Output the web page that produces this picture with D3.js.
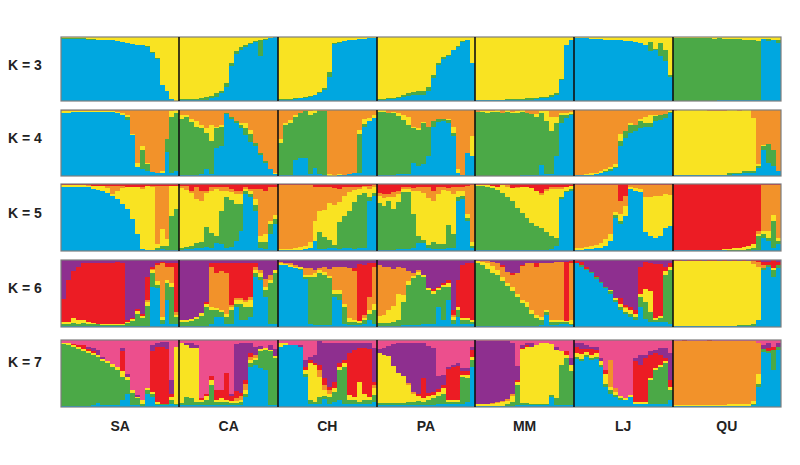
<!DOCTYPE html>
<html><head><meta charset="utf-8">
<script src="https://cdn.jsdelivr.net/npm/d3@7"></script>
<style>body{margin:0;background:#fff}svg{display:block}</style>
</head><body>
<svg id="c" width="800" height="465"></svg>
<script>
// ---------------- DATA ----------------
const populations = ["SA","CA","CH","PA","MM","LJ","QU"];
const popSizes    = [24,20,20,20,20,20,22];
const kLabels     = ["K = 3","K = 4","K = 5","K = 6","K = 7"];

const clustersK3 = ["blue","green","yellow"];
const clustersK4 = ["blue","green","yellow","orange"];
const clustersK5 = ["blue","green","yellow","orange","red"];
const clustersK6 = ["blue","green","yellow","orange","red","purple"];
const clustersK7 = ["blue","green","yellow","orange","red","purple","pink"];

// membership (%) per individual, columns follow clustersKx
const K3 = [
// SA
[97,2,1],[97,2,1],[97,1,2],[97,1,2],[97,1,2],[96,1,3],[96,1,3],[96,0,4],[96,0,4],[95,0,5],[95,0,5],[94,0,6],[92,0,8],[91,0,9],[89,0,11],[88,0,12],[87,0,13],[85,1,14],[75,2,23],[66,1,33],[25,0,75],[15,0,85],[3,0,97],[0,0,100],
// CA
[1,2,97],[1,2,97],[1,2,97],[1,2,97],[1,3,96],[2,4,94],[4,4,92],[7,5,88],[12,4,84],[22,6,72],[55,5,40],[74,4,22],[80,4,16],[85,3,12],[89,2,9],[92,2,6],[70,26,4],[96,1,3],[99,0,1],[100,0,0],
// CH
[2,1,97],[2,1,97],[2,1,97],[3,1,96],[4,1,95],[5,1,94],[7,1,92],[9,1,90],[12,2,86],[17,3,80],[37,8,55],[89,1,10],[91,1,8],[93,1,6],[95,0,5],[96,0,4],[97,0,3],[97,0,3],[98,0,2],[99,0,1],
// PA
[2,1,97],[2,1,97],[3,1,96],[3,1,96],[5,1,94],[7,2,91],[8,4,88],[9,5,86],[10,5,85],[10,6,84],[16,6,78],[36,4,60],[57,3,40],[66,2,32],[70,2,28],[79,1,20],[85,1,14],[92,1,7],[95,0,5],[60,0,40],
// MM
[1,1,98],[1,1,98],[1,1,98],[1,1,98],[1,1,98],[1,1,98],[2,1,97],[2,1,97],[2,1,97],[2,1,97],[2,2,96],[2,2,96],[3,2,95],[4,2,94],[5,2,93],[7,2,91],[10,2,88],[33,2,65],[87,1,12],[96,0,4],
// LJ
[98,0,2],[98,0,2],[98,0,2],[97,0,3],[97,0,3],[97,0,3],[96,0,4],[96,0,4],[95,0,5],[95,0,5],[94,0,6],[93,0,7],[92,0,8],[90,0,10],[87,1,12],[78,14,8],[80,2,18],[70,20,10],[62,18,20],[38,2,60],
// QU
[0,98,2],[0,98,2],[0,98,2],[0,98,2],[0,98,2],[0,98,2],[0,98,2],[0,98,2],[0,97,3],[1,97,2],[1,96,3],[1,96,3],[1,96,3],[2,95,3],[1,95,4],[1,95,4],[1,94,5],[1,93,6],[97,0,3],[93,4,3],[96,0,4],[90,5,5]
];

const K4 = [
// SA
[95,0,3,2],[96,0,2,2],[97,0,1,2],[97,0,1,2],[97,0,1,2],[97,0,1,2],[97,0,1,2],[97,0,1,2],[97,0,1,2],[97,0,1,2],[97,0,1,2],[96,0,1,3],[92,0,4,4],[85,5,2,8],[62,0,2,36],[14,0,6,80],[10,30,5,55],[8,10,2,80],[6,0,0,94],[5,0,0,95],[5,0,2,93],[36,20,0,44],[5,85,8,2],[8,88,4,0],
// CA
[2,85,5,8],[2,88,3,7],[2,80,5,13],[2,73,8,17],[3,70,5,22],[10,55,8,27],[3,50,25,22],[42,30,3,25],[45,30,2,23],[94,2,0,4],[87,3,0,10],[80,3,0,17],[72,5,3,20],[62,10,8,20],[52,12,6,30],[45,5,0,50],[32,3,0,65],[20,2,0,78],[10,0,0,90],[3,0,2,95],
// CH
[2,48,6,44],[2,75,3,20],[2,78,5,15],[25,65,2,8],[27,68,1,4],[28,70,0,2],[3,90,5,2],[12,84,4,0],[3,95,0,2],[2,96,0,2],[0,0,3,97],[0,0,2,98],[1,0,2,97],[2,0,0,98],[3,0,0,97],[4,0,0,96],[4,60,6,30],[75,4,8,13],[83,0,5,12],[88,0,4,8],
// PA
[2,95,3,0],[2,95,3,0],[2,94,0,4],[2,93,2,3],[3,88,4,5],[3,82,8,7],[3,75,12,10],[20,52,3,25],[15,55,3,27],[18,62,2,18],[30,45,0,25],[75,8,0,17],[82,4,0,14],[84,3,0,13],[80,5,2,13],[60,5,10,25],[5,0,5,90],[2,0,0,98],[35,0,0,65],[30,0,30,40],
// MM
[0,97,0,3],[0,97,1,2],[0,96,3,1],[0,97,2,1],[0,97,3,0],[0,96,0,4],[0,97,3,0],[0,96,1,3],[0,96,3,1],[1,96,3,0],[1,95,0,4],[2,92,0,6],[2,88,4,6],[17,78,3,2],[3,80,15,2],[3,65,22,10],[30,50,10,10],[80,12,3,5],[88,5,3,4],[92,2,3,3],
// LJ
[1,0,0,99],[1,0,1,98],[2,0,1,97],[2,0,2,96],[3,0,2,95],[4,1,2,93],[6,2,3,89],[8,2,3,87],[12,2,4,82],[45,8,10,37],[58,10,0,32],[65,12,3,20],[68,10,0,22],[72,12,3,13],[75,5,10,10],[75,5,12,8],[83,8,2,7],[85,8,0,7],[88,6,0,6],[95,2,2,1],
// QU
[1,1,97,1],[1,1,98,0],[1,1,98,0],[1,1,98,0],[1,1,98,0],[1,1,98,0],[1,1,98,0],[1,1,97,1],[1,1,97,1],[1,1,97,1],[1,1,97,1],[2,2,96,0],[3,2,95,0],[3,2,94,1],[4,3,93,0],[5,3,92,0],[5,3,80,12],[12,3,3,82],[40,5,2,53],[20,28,0,52],[15,25,0,60],[8,0,0,92]
];

const K5 = [
// SA
[96,0,3,0,1],[96,0,3,0,1],[96,0,3,0,1],[96,0,2,1,1],[95,0,3,0,2],[95,0,2,1,2],[93,0,4,0,3],[91,0,6,0,3],[89,0,8,0,3],[86,0,8,3,3],[82,0,3,12,3],[78,0,12,7,3],[70,0,24,3,3],[62,0,33,0,5],[48,0,48,0,4],[25,0,70,0,5],[3,0,90,3,4],[2,0,95,0,3],[2,0,94,1,3],[2,3,5,87,3],[3,5,25,64,3],[2,6,10,79,3],[2,50,45,0,3],[2,60,35,0,3],
// CA
[2,2,90,3,3],[3,3,85,6,3],[3,5,78,4,10],[4,8,65,18,5],[4,10,60,16,10],[6,30,50,4,10],[5,22,63,5,5],[12,10,70,3,5],[10,50,30,5,5],[5,75,10,5,5],[6,70,12,4,8],[15,55,15,5,10],[30,40,15,5,10],[85,5,3,2,5],[80,5,4,3,8],[60,8,10,15,7],[5,8,10,70,7],[3,10,12,65,10],[25,15,5,50,5],[40,8,5,42,5],
// CH
[1,0,2,96,1],[1,0,2,96,1],[1,0,2,96,1],[2,0,3,94,1],[2,0,4,93,1],[3,0,5,91,1],[5,0,8,86,1],[15,0,30,50,5],[3,25,32,35,5],[3,18,40,34,5],[4,12,55,24,5],[4,5,60,25,6],[3,40,30,20,7],[4,48,30,13,5],[5,55,28,8,4],[3,70,18,5,4],[5,78,10,3,4],[5,82,8,2,3],[75,5,12,5,3],[82,5,8,3,2],
// PA
[2,70,10,5,13],[2,65,12,6,15],[2,72,6,5,15],[2,60,18,8,12],[3,70,12,5,10],[3,85,4,3,5],[3,85,5,2,5],[5,50,35,4,6],[12,10,68,5,5],[12,5,70,8,5],[4,5,70,16,5],[3,10,62,15,10],[3,8,74,10,5],[3,8,80,4,5],[4,35,50,5,6],[5,20,60,10,5],[75,5,10,5,5],[78,4,8,6,4],[45,5,5,42,3],[5,3,5,85,2],
// MM
[1,96,2,0,1],[1,96,2,0,1],[1,95,2,0,2],[1,93,3,0,3],[1,90,5,0,4],[1,85,12,0,2],[1,80,15,2,2],[1,73,20,0,6],[2,62,30,2,4],[2,55,38,0,5],[2,48,45,0,5],[2,40,52,0,6],[2,35,52,0,11],[2,32,50,2,14],[2,27,60,3,8],[3,20,70,2,5],[8,12,72,3,5],[78,2,12,3,5],[88,2,6,0,4],[90,2,5,0,3],
// LJ
[2,0,2,95,1],[2,0,3,94,1],[3,0,3,93,1],[3,0,4,92,1],[4,0,5,90,1],[5,0,7,87,1],[8,0,10,80,2],[15,0,10,73,2],[50,3,5,40,2],[40,5,10,20,25],[52,0,15,15,18],[92,0,3,3,2],[90,0,4,4,2],[88,0,4,6,2],[28,0,52,18,2],[22,0,58,18,2],[20,0,62,16,2],[22,0,60,16,2],[35,0,50,13,2],[38,0,45,15,2],
// QU
[1,0,1,0,98],[1,0,1,0,98],[1,0,1,0,98],[1,0,1,0,98],[1,0,1,0,98],[1,0,1,0,98],[1,0,1,0,98],[1,0,1,0,98],[1,0,1,0,98],[1,0,1,0,98],[1,0,2,0,97],[0,1,2,0,97],[0,1,3,0,96],[0,2,3,0,95],[0,2,4,0,94],[0,3,4,0,93],[1,4,5,0,90],[2,20,3,5,70],[20,5,5,68,2],[15,5,10,68,2],[5,40,8,45,2],[10,5,5,78,2]
];

const K6 = [
// SA
[2,3,2,0,35,58],[2,3,3,0,62,30],[2,4,8,0,70,16],[2,3,5,0,80,10],[2,4,4,0,85,5],[2,3,3,0,88,4],[2,2,2,0,90,4],[2,2,1,0,91,4],[1,2,2,0,91,4],[1,2,1,0,92,4],[1,2,2,0,91,4],[1,2,2,0,92,3],[1,2,1,0,92,4],[1,5,2,0,2,90],[1,8,3,0,2,86],[1,18,5,0,3,73],[1,12,4,0,3,80],[2,30,5,3,35,25],[60,20,5,2,3,10],[58,5,5,25,2,5],[5,5,5,80,2,3],[40,25,5,20,5,5],[5,55,5,25,5,5],[5,10,3,5,72,5],
// CA
[2,5,3,0,0,90],[2,6,2,0,0,90],[2,7,3,0,0,88],[2,10,3,0,0,85],[2,15,4,0,0,79],[2,28,5,0,3,62],[5,20,5,60,5,5],[15,10,3,52,15,5],[15,8,3,58,12,4],[5,10,5,60,16,4],[5,20,5,3,62,5],[30,5,5,3,52,5],[10,25,5,3,52,5],[10,20,8,2,55,5],[15,15,10,5,50,5],[75,5,5,5,5,5],[70,5,5,5,0,15],[45,10,5,12,0,28],[5,60,5,8,0,22],[5,75,5,0,0,15],
// CH
[92,0,3,2,0,3],[92,0,2,2,0,4],[90,0,2,3,0,5],[88,0,2,3,0,7],[85,2,3,0,0,10],[72,3,3,10,0,12],[5,70,3,10,0,12],[3,72,5,5,0,15],[3,78,4,3,0,12],[3,75,4,8,0,10],[3,70,3,10,0,14],[45,5,5,35,0,10],[40,10,5,35,0,10],[5,25,5,55,0,10],[3,5,5,75,0,12],[3,5,3,72,5,12],[3,3,3,0,85,6],[5,5,3,5,75,7],[10,10,5,20,50,5],[5,20,10,55,5,5],
// PA
[2,4,10,76,0,8],[2,4,12,72,0,10],[2,4,20,64,0,10],[2,5,25,55,0,13],[2,8,40,40,0,10],[3,35,10,40,0,12],[3,60,5,15,0,17],[3,70,3,5,0,19],[3,75,4,3,0,15],[5,70,3,0,0,22],[5,50,3,0,0,42],[5,45,3,0,3,44],[30,25,3,0,2,40],[10,50,3,0,3,34],[40,20,5,0,5,30],[5,5,5,3,7,75],[15,10,5,0,40,30],[5,5,3,0,80,7],[5,5,3,0,82,5],[5,3,2,0,85,5],
// MM
[1,94,3,0,0,2],[1,91,5,1,0,2],[1,86,8,3,0,2],[1,80,10,6,0,3],[1,76,8,10,0,5],[1,68,6,15,3,7],[1,60,5,16,0,18],[1,53,5,18,3,20],[1,44,5,30,0,20],[1,35,5,50,2,7],[2,28,8,57,0,5],[2,18,5,70,0,5],[2,12,4,72,5,5],[3,8,4,80,0,5],[18,5,3,70,0,4],[3,5,3,85,0,4],[3,4,3,87,0,3],[5,3,3,86,0,3],[5,2,2,0,88,3],[3,2,5,85,3,2],
// LJ
[96,0,0,0,3,1],[90,2,0,0,5,3],[85,2,0,0,3,10],[80,2,0,0,0,18],[72,2,0,0,2,24],[65,2,0,0,0,33],[58,2,0,0,0,40],[50,3,2,0,0,45],[38,3,3,0,0,56],[25,5,5,0,8,57],[20,3,5,2,3,67],[15,5,5,0,5,70],[10,5,5,0,5,75],[30,15,5,0,40,10],[12,25,20,0,40,3],[8,15,30,0,42,5],[8,3,3,0,80,6],[8,5,3,0,78,6],[8,70,5,0,7,10],[5,80,5,0,5,5],
// QU
[1,1,97,0,1,0],[1,1,97,0,1,0],[1,1,97,0,0,1],[1,1,97,0,1,0],[1,1,97,0,1,0],[1,1,97,0,1,0],[1,1,96,0,1,1],[1,1,96,0,2,0],[1,1,96,0,2,0],[1,1,96,0,1,1],[1,1,96,0,2,0],[1,1,96,0,1,1],[1,1,96,0,2,0],[1,2,95,0,1,1],[1,2,95,0,2,0],[1,2,95,0,1,1],[2,2,90,5,1,0],[10,0,80,7,3,0],[85,3,0,5,4,3],[90,3,0,0,4,3],[75,10,3,0,12,0],[88,5,0,0,4,3]
];

const K7 = [
// SA
[2,92,1,0,1,0,4],[2,91,2,0,0,0,5],[2,88,2,0,2,0,6],[2,85,2,0,3,0,8],[2,82,3,0,5,0,8],[2,78,4,0,3,3,10],[3,75,3,0,2,5,12],[6,68,4,0,0,7,15],[3,65,4,0,0,3,25],[3,62,4,0,0,0,31],[3,57,4,0,0,0,36],[3,52,4,0,0,0,41],[10,35,8,0,30,5,12],[20,20,5,0,0,5,50],[3,18,5,0,0,0,74],[3,10,2,0,0,3,82],[2,3,5,0,0,0,90],[20,5,3,0,0,0,72],[15,5,3,0,60,10,7],[3,2,2,0,83,6,4],[3,2,0,0,85,7,3],[3,2,0,0,82,10,3],[5,5,5,0,5,20,60],[3,2,85,0,0,0,10],
// CA
[3,3,90,0,0,0,4],[3,12,78,0,0,2,5],[3,10,75,0,0,7,5],[3,5,80,0,0,5,7],[3,5,3,0,3,0,86],[3,8,5,0,3,0,81],[3,30,8,0,5,0,54],[3,5,3,0,15,0,74],[3,5,5,0,12,0,75],[3,5,3,0,40,0,49],[3,3,3,0,8,3,80],[3,3,3,5,10,70,6],[3,5,3,5,5,74,5],[15,5,5,10,5,55,5],[60,5,5,5,5,15,5],[62,8,3,5,0,12,10],[58,25,3,0,0,5,9],[55,30,3,0,0,0,12],[3,80,2,0,0,8,7],[3,70,3,0,0,10,14],
// CH
[90,0,6,0,0,0,4],[93,0,2,0,0,0,5],[93,0,0,0,0,0,7],[92,0,0,0,0,0,8],[90,0,0,0,0,2,8],[45,5,5,0,5,10,30],[5,5,55,0,5,5,25],[5,3,55,0,3,12,22],[5,10,30,10,8,35,2],[12,5,8,8,10,52,5],[5,10,5,5,5,65,5],[8,15,5,0,10,57,5],[10,45,5,0,5,30,5],[5,55,5,0,5,25,5],[5,5,8,0,62,15,5],[5,5,5,0,70,10,5],[5,3,30,0,50,7,5],[5,5,10,0,68,7,5],[5,5,5,0,72,8,5],[8,10,10,5,5,50,12],
// PA
[3,3,75,0,0,5,14],[3,3,72,0,0,10,12],[3,3,70,0,0,15,9],[3,3,55,0,0,33,6],[3,3,45,0,0,45,4],[3,3,40,0,0,50,4],[3,5,25,3,0,60,4],[3,5,12,3,0,72,5],[3,6,8,0,3,75,5],[3,5,5,0,30,52,5],[3,8,5,0,5,70,9],[3,10,5,0,5,65,12],[5,12,5,0,5,20,53],[5,15,8,0,5,15,52],[5,3,3,0,45,4,40],[5,3,3,0,48,3,38],[5,3,3,0,50,4,35],[5,40,3,0,5,5,42],[8,35,5,0,5,5,42],[60,10,5,0,10,5,10],
// MM
[2,0,3,0,0,93,2],[2,0,3,0,0,93,2],[2,0,3,0,0,93,2],[2,0,3,1,0,92,2],[2,0,4,2,0,90,2],[2,0,5,2,0,89,2],[2,2,5,3,0,86,2],[2,5,10,3,0,75,5],[3,30,5,0,3,20,39],[3,3,80,0,2,5,7],[3,3,84,0,2,3,5],[3,2,85,0,0,5,5],[3,2,88,0,0,0,7],[3,2,90,0,0,0,5],[3,2,90,0,0,0,5],[15,3,76,0,0,0,6],[3,10,72,0,0,5,10],[3,60,20,0,0,0,17],[3,70,5,0,5,0,17],[3,50,10,0,0,10,27],
// LJ
[72,3,5,0,10,5,5],[68,3,8,0,8,8,5],[75,2,5,0,5,5,8],[70,3,5,0,8,4,10],[72,3,5,0,5,5,10],[60,3,5,0,0,5,27],[30,5,15,0,5,0,45],[20,5,5,40,0,0,30],[15,3,5,5,0,0,72],[10,3,3,0,0,0,84],[10,0,3,0,0,0,87],[15,0,3,0,0,0,82],[5,0,3,0,60,5,27],[5,0,3,0,55,15,22],[5,0,3,0,65,5,22],[5,35,3,0,35,5,17],[5,50,3,0,22,5,15],[5,55,3,0,15,10,12],[5,60,3,0,5,15,12],[10,15,5,0,10,40,20],
// QU
[1,0,2,96,0,0,1],[1,0,2,96,0,0,1],[1,0,2,96,1,0,0],[1,0,2,96,0,0,1],[1,0,2,96,0,0,1],[1,0,2,96,0,0,1],[1,0,2,96,0,0,1],[1,0,2,96,1,0,0],[1,0,2,96,0,0,1],[1,0,2,96,0,0,1],[1,0,2,95,1,0,1],[1,0,3,95,0,0,1],[1,0,3,95,0,0,1],[1,0,3,94,1,0,1],[1,0,3,94,0,1,1],[1,1,3,93,0,0,2],[3,1,5,89,0,0,2],[30,5,15,45,0,0,5],[82,5,0,0,0,5,8],[80,3,0,0,5,7,5],[55,30,0,0,5,0,10],[85,5,0,0,0,5,5]
];

// ---------------- STYLE / LAYOUT ----------------
const colors = {blue:"#00a7e0", green:"#4ba947", yellow:"#f9e322", orange:"#f2922a",
                red:"#ec1c24", purple:"#8e2f8f", pink:"#ec4f8d"};
const panelTop    = [37,110,184,260,340];
const panelBottom = [101,176,251,327,407];
const labelBase   = [70,143,218,293,367];
const X0 = 61, X1 = 781;

const panels = [
  {label:kLabels[0], keys:clustersK3, rows:K3},
  {label:kLabels[1], keys:clustersK4, rows:K4},
  {label:kLabels[2], keys:clustersK5, rows:K5},
  {label:kLabels[3], keys:clustersK6, rows:K6},
  {label:kLabels[4], keys:clustersK7, rows:K7}
];

const svg = d3.select("#c");
const total = d3.sum(popSizes);
const x = d3.scaleLinear().domain([0,total]).range([X0,X1]);
const popStart = d3.cumsum([0, ...popSizes]);

panels.forEach((p, pi) => {
  const data = p.rows.map((r,i) => { const o = {i}; p.keys.forEach((k,j)=>o[k]=r[j]); return o; });
  const series = d3.stack().keys(p.keys).offset(d3.stackOffsetExpand)(data);
  const y = d3.scaleLinear().domain([0,1]).range([panelBottom[pi], panelTop[pi]]);
  const g = svg.append("g");
  g.selectAll("g").data(series).join("g")
    .attr("fill", d => colors[d.key])
    .selectAll("rect").data(d => d).join("rect")
    .attr("shape-rendering","crispEdges")
    .attr("x", d => Math.round(x(d.data.i)))
    .attr("width", d => Math.round(x(d.data.i+1)) - Math.round(x(d.data.i)))
    .attr("y", d => y(d[1]))
    .attr("height", d => Math.max(0, y(d[0]) - y(d[1])));
  // frame
  g.append("rect").attr("x",X0).attr("y",panelTop[pi])
    .attr("width",X1-X0).attr("height",panelBottom[pi]-panelTop[pi])
    .attr("fill","none").attr("stroke","#7d7d7d").attr("stroke-width",1.2);
  // population separators
  g.selectAll("line").data(popStart.slice(1,-1)).join("line")
    .attr("x1", d => Math.round(x(d))).attr("x2", d => Math.round(x(d)))
    .attr("y1", panelTop[pi]).attr("y2", panelBottom[pi])
    .attr("stroke","#111").attr("stroke-width",1.6);
  // K label
  svg.append("text").attr("x",8).attr("y",labelBase[pi])
    .attr("font-family","Liberation Sans, Arial, sans-serif")
    .attr("font-weight","bold").attr("font-size",14).attr("fill","#222")
    .text(p.label);
});

// population labels
svg.selectAll("text.pop").data(populations).join("text")
  .attr("class","pop")
  .attr("x", (d,i) => (x(popStart[i]) + x(popStart[i+1]))/2)
  .attr("y", 431)
  .attr("text-anchor","middle")
  .attr("font-family","Liberation Sans, Arial, sans-serif")
  .attr("font-weight","bold").attr("font-size",14).attr("fill","#222")
  .text(d => d);
</script>
</body></html>
